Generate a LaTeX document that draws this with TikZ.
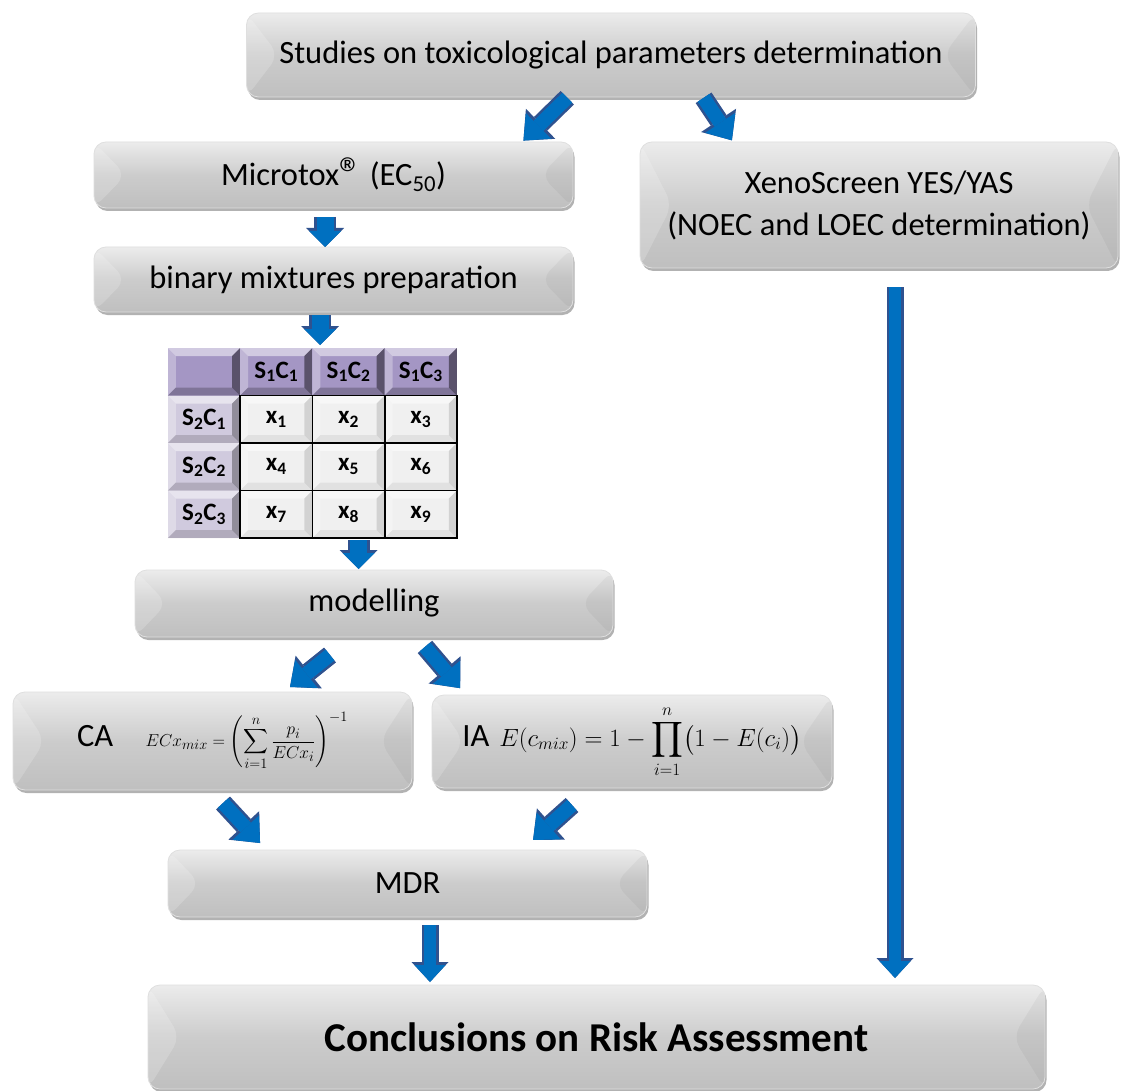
\documentclass[tikz,border=0pt]{standalone}
\usepackage{exscale}
\usepackage{amsmath}
\usepackage{fontspec}
\setmainfont{Carlito}
\usetikzlibrary{positioning,shadows,arrows.meta}

\definecolor{arrowfill}{RGB}{0,112,192}
\definecolor{arrowedge}{RGB}{47,82,143}
\definecolor{hdpurple}{RGB}{164,150,196}
\definecolor{rowpurple}{RGB}{208,202,222}
\definecolor{cellgray}{RGB}{240,240,240}

\begin{document}
\begin{tikzpicture}[
  x=1pt, y=-1pt,
  stepbox/.style={rectangle, rounded corners=12pt, draw=gray!25, line width=0.8pt,
    top color=gray!15, bottom color=gray!50, middle color=gray!40,
    drop shadow={shadow xshift=1.5pt, shadow yshift=-3pt, opacity=.3, fill=black},
    path picture={
      \fill[white, opacity=.18] (path picture bounding box.north west)
        -- ([xshift=32pt]path picture bounding box.west) -- (path picture bounding box.south west) -- cycle;
      \fill[black, opacity=.04] (path picture bounding box.north east)
        -- ([xshift=-32pt]path picture bounding box.east) -- (path picture bounding box.south east) -- cycle;},
    inner sep=0pt, outer sep=0pt, font=\fontsize{32.5}{42}\selectfont},
  cellbevel/.style={path picture={
      \path (path picture bounding box.north west) coordinate (bnw)
            (path picture bounding box.north east) coordinate (bne)
            (path picture bounding box.south west) coordinate (bsw)
            (path picture bounding box.south east) coordinate (bse);
      \fill[white, opacity=.5] (bnw) -- (bne) -- ([shift={(-8pt,-8pt)}]bne) -- ([shift={(8pt,-8pt)}]bnw) -- cycle;
      \fill[white, opacity=.3] (bnw) -- ([shift={(8pt,-8pt)}]bnw) -- ([shift={(8pt,8pt)}]bsw) -- (bsw) -- cycle;
      \fill[black, opacity=#1] (bne) -- (bse) -- ([shift={(-8pt,8pt)}]bse) -- ([shift={(-8pt,-8pt)}]bne) -- cycle;
      \fill[black, opacity=#1/2] (bsw) -- (bse) -- ([shift={(-8pt,8pt)}]bse) -- ([shift={(8pt,8pt)}]bsw) -- cycle;}},
  cellbase/.style={rectangle, minimum width=72.25pt, minimum height=47.5pt, inner sep=0pt, outer sep=0pt,
    font=\fontsize{25}{28}\selectfont\bfseries},
  hdcell/.style={cellbase, fill=hdpurple, cellbevel=.45},
  rowcell/.style={cellbase, fill=rowpurple, cellbevel=.3},
  datacell/.style={cellbase, fill=cellgray, draw=black, line width=1.6pt, cellbevel=.12},
  diagarrow/.style={draw=arrowedge, line width=19pt, -{Triangle[length=24pt,width=42pt,line width=0pt]},
    postaction={draw=arrowfill, line width=14pt, -{Triangle[length=21pt,width=36pt,line width=0pt]}}},
  stubarrow/.style={draw=arrowedge, line width=22pt, -{Triangle[length=19pt,width=38pt,line width=0pt]},
    postaction={draw=arrowfill, line width=17pt, -{Triangle[length=16pt,width=32pt,line width=0pt]}}},
  longarrow/.style={draw=arrowedge, line width=17pt, -{Triangle[length=20pt,width=37pt,line width=0pt]},
    postaction={draw=arrowfill, line width=12pt, -{Triangle[length=17pt,width=31pt,line width=0pt]}}}
]
  \useasboundingbox[fill=white] (0,0) rectangle (1121,1091);

  % boxes of the flow
  \node[stepbox, minimum width=729pt, minimum height=84pt] (studies) at (611,55)
    {Studies on toxicological parameters determination};
  \node[stepbox, minimum width=479pt, minimum height=66pt] (microtox) at (333.5,175)
    {Microtox\raisebox{-4pt}{\fontsize{46}{46}\selectfont®} (EC\textsubscript{50})};
  \node[stepbox, minimum width=478pt, minimum height=126pt, align=center] (xeno) at (879,205)
    {XenoScreen YES/YAS\\(NOEC and LOEC determination)};
  \node[stepbox, minimum width=479pt, minimum height=65pt] (binary) at (333.5,279.5)
    {binary mixtures preparation};

  % mixture table
  \node[hdcell] (h0) at (204.1,371.75) {};
  \foreach \c [remember=\c as \p (initially 0)] in {1,2,3}
    \node[hdcell] (h\c) [right=0pt of h\p] {S\textsubscript{1}C\textsubscript{\c}};
  \node[rowcell] (r1) [below=0pt of h0] {S\textsubscript{2}C\textsubscript{1}};
  \node[rowcell] (r2) [below=0pt of r1] {S\textsubscript{2}C\textsubscript{2}};
  \node[rowcell] (r3) [below=0pt of r2] {S\textsubscript{2}C\textsubscript{3}};
  \foreach \r in {1,2,3}
    \foreach \c in {1,2,3} {
      \pgfmathtruncatemacro{\k}{3*(\r-1)+\c}
      \node[datacell] (x\k) at (h\c |- r\r) {x\textsubscript{\k}};
    }

  \node[stepbox, minimum width=478pt, minimum height=67pt] (modelling) at (374,603.5) {modelling};
  \node[stepbox, minimum width=399pt, minimum height=98pt] (ca) at (212.5,741)
    {CA\quad{\fontsize{19}{22}\selectfont$\displaystyle ECx_{mix}=\left(\sum_{i=1}^{n}\frac{p_i}{ECx_i}\right)^{-1}$}};
  \node[stepbox, minimum width=400pt, minimum height=93pt] (ia) at (632,741.5)
    {IA\hspace{10pt}{\fontsize{23}{26}\selectfont$\displaystyle E(c_{mix})=1-\prod_{i=1}^{n}\bigl(1-E(c_i)\bigr)$}};
  \node[stepbox, minimum width=479pt, minimum height=67pt] (mdr) at (407.5,883.5) {MDR};
  \node[stepbox, minimum width=897pt, minimum height=104pt, font=\fontsize{41}{48}\selectfont\bfseries]
    (concl) at (596.5,1037) {Conclusions on Risk Assessment};

  % arrows
  \draw[diagarrow, shorten <=1pt, shorten >=2pt] ([xshift=-43pt]studies.south) -- ([xshift=188.5pt]microtox.north);
  \draw[diagarrow, shorten <=1pt, shorten >=2pt] ([xshift=92pt]studies.south) -- ([xshift=-146pt]xeno.north);
  \draw[stubarrow, shorten <=9pt] ([xshift=-8.5pt]microtox.south) -- ([xshift=-8.5pt]binary.north);
  \draw[stubarrow, shorten <=3pt, shorten >=3pt] ([xshift=-13.5pt]binary.south) -- ([xshift=-28.6pt]h2.north);
  \draw[stubarrow, shorten <=2pt, shorten >=1pt] ([xshift=10pt]x8.south) -- ([xshift=-15.4pt]modelling.north);
  \draw[diagarrow, shorten <=28.8pt, shorten >=8pt] ([xshift=-21.5pt]modelling.south) -- ([xshift=71.25pt]ca.north);
  \draw[diagarrow, shorten <=13pt, shorten >=9pt] ([xshift=42.5pt]modelling.south) -- ([xshift=-166pt]ia.north);
  \draw[diagarrow, shorten <=17.7pt, shorten >=9.5pt] ([xshift=-1.5pt]ca.south) -- ([xshift=-141pt]mdr.north);
  \draw[diagarrow, shorten <=25.5pt, shorten >=15pt] ([xshift=-41pt]ia.south) -- ([xshift=114.4pt]mdr.north);
  \draw[longarrow, shorten <=8pt, shorten >=3pt] ([xshift=22.5pt]mdr.south) -- ([xshift=-166.5pt]concl.north);
  \draw[longarrow, shorten <=19pt, shorten >=7pt] ([xshift=16pt]xeno.south) -- ([xshift=298.5pt]concl.north);

\end{tikzpicture}
\end{document}
